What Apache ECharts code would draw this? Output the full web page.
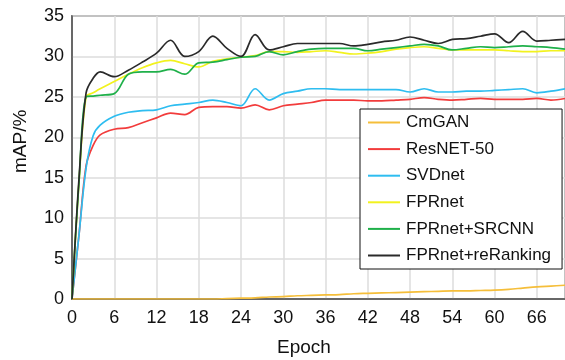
<!DOCTYPE html>
<html>
<head>
<meta charset="utf-8">
<script src="https://cdn.jsdelivr.net/npm/echarts@6/dist/echarts.min.js"></script>
<style>
  html, body { margin: 0; padding: 0; background: #fff; }
  #chart { width: 565px; height: 360px; }
</style>
</head>
<body>
<div id="chart"></div>
<script>
// Training epochs at which mAP was recorded
const epochs = [0, 1, 2, 3, 4, 6, 8, 10, 12, 14, 16, 18, 20, 22, 24, 26, 28, 30, 32, 34, 36,
  38, 40, 42, 44, 46, 48, 50, 52, 54, 56, 58, 60, 62, 64, 66, 68, 70];

// mAP (%) per method
const cmgan = [0, 0, 0, 0, 0, 0, 0, 0, 0, 0, 0, 0, 0, 0.05, 0.1, 0.15, 0.25, 0.3, 0.4, 0.45, 0.5,
  0.55, 0.65, 0.7, 0.75, 0.8, 0.85, 0.9, 0.95, 1.0, 1.0, 1.05, 1.1, 1.2, 1.35, 1.5, 1.6, 1.7];
const resnet50 = [0, 8, 16.5, 19.0, 20.3, 21.0, 21.2, 21.8, 22.4, 23.0, 22.8, 23.7, 23.8, 23.8, 23.6,
  24.0, 23.4, 23.9, 24.1, 24.3, 24.6, 24.6, 24.6, 24.5, 24.5, 24.6, 24.7, 24.9, 24.7, 24.6,
  24.7, 24.8, 24.7, 24.7, 24.7, 24.8, 24.6, 24.8];
const svdnet = [0, 8, 16.2, 20.2, 21.5, 22.6, 23.1, 23.3, 23.4, 23.9, 24.1, 24.3, 24.6, 24.3, 23.9,
  26.0, 24.6, 25.4, 25.7, 26.0, 26.0, 25.9, 25.9, 25.9, 25.9, 25.9, 25.6, 26.0, 25.6, 25.6,
  25.7, 25.7, 25.8, 25.9, 26.0, 25.5, 25.7, 26.0];
const fprnet = [0, 14.5, 25.0, 25.5, 26.0, 26.9, 27.8, 28.6, 29.2, 29.5, 29.1, 28.7, 29.4, 29.7, 29.9,
  30.1, 30.6, 30.6, 30.5, 30.6, 30.7, 30.5, 30.3, 30.4, 30.6, 30.9, 31.1, 31.2, 31.0, 30.8,
  30.8, 30.8, 30.8, 30.7, 30.6, 30.6, 30.7, 30.7];
const fprnetSrcnn = [0, 14.5, 25.0, 25.1, 25.2, 25.4, 27.8, 28.1, 28.1, 28.4, 27.8, 29.2, 29.3, 29.6,
  29.9, 30.0, 30.6, 30.2, 30.6, 30.9, 31.0, 31.0, 31.0, 30.7, 30.9, 31.1, 31.3, 31.5, 31.3,
  30.8, 31.0, 31.2, 31.1, 31.2, 31.3, 31.2, 31.1, 30.9];
const fprnetReRanking = [0, 15, 25.5, 27.3, 28.1, 27.5, 28.3, 29.3, 30.4, 32.0, 30.0, 30.6, 32.5, 31.0,
  30.0, 32.7, 30.8, 31.2, 31.6, 31.6, 31.6, 31.6, 31.3, 31.5, 31.8, 32.0, 32.4, 32.0, 31.6,
  32.1, 32.2, 32.5, 32.8, 31.7, 33.1, 31.9, 32.0, 32.1];

const seriesNames = ['CmGAN', 'ResNET-50', 'SVDnet', 'FPRnet', 'FPRnet+SRCNN', 'FPRnet+reRanking'];
const seriesValues = [cmgan, resnet50, svdnet, fprnet, fprnetSrcnn, fprnetReRanking];
const seriesColors = ['#f5be3a', '#f23c3c', '#2ebdf0', '#f2f21e', '#1fb04a', '#2a2a2a'];

const FONT = "'Liberation Sans', Arial, sans-serif";

const chart = echarts.init(document.getElementById('chart'), null, { renderer: 'canvas' });

chart.setOption({
  animation: false,
  backgroundColor: '#ffffff',
  grid: {
    left: 72, right: 0, top: 16, bottom: 61,
    show: true, borderColor: '#4a4a4a', borderWidth: 1.5, backgroundColor: 'transparent'
  },
  xAxis: {
    type: 'value',
    min: 0, max: 70, interval: 6,
    axisLine: { show: true, lineStyle: { color: '#4a4a4a', width: 1.5 } },
    axisTick: { show: false },
    splitLine: { show: true, lineStyle: { color: '#dcdcdc', width: 1.5 } },
    axisLabel: {
      showMaxLabel: false, margin: 10,
      fontFamily: FONT, fontSize: 18, color: '#111'
    }
  },
  yAxis: {
    type: 'value',
    min: 0, max: 35, interval: 5,
    axisLine: { show: true, lineStyle: { color: '#4a4a4a', width: 1.5 } },
    axisTick: { show: false },
    splitLine: { show: true, lineStyle: { color: '#dcdcdc', width: 1.5 } },
    axisLabel: { margin: 8, fontFamily: FONT, fontSize: 18, color: '#111' }
  },
  legend: {
    orient: 'vertical',
    left: 360, top: 109,
    padding: [5, 11, 5, 7],
    itemWidth: 32, itemHeight: 14, itemGap: 9.6,
    backgroundColor: '#ffffff',
    borderColor: '#111', borderWidth: 1,
    itemStyle: { opacity: 0 },
    textStyle: { fontFamily: FONT, fontSize: 17, color: '#111', padding: [0, 0, 0, 1] },
    data: seriesNames
  },
  graphic: [
    {
      type: 'text', rotation: Math.PI / 2,
      style: { text: 'mAP/%', font: "19px 'Liberation Sans', Arial, sans-serif", fill: '#111' },
      x: 11, y: 173
    },
    {
      type: 'text', x: 304, y: 348,
      style: {
        text: 'Epoch', font: "19px 'Liberation Sans', Arial, sans-serif", fill: '#111',
        align: 'center', verticalAlign: 'middle'
      }
    }
  ],
  series: seriesNames.map((name, i) => ({
    name: name,
    type: 'line',
    data: epochs.map((e, j) => [e, seriesValues[i][j]]),
    smooth: 0.35,
    symbol: 'none',
    showSymbol: false,
    color: seriesColors[i],
    lineStyle: { color: seriesColors[i], width: 1.7 },
    itemStyle: { color: seriesColors[i] },
    z: 2 + i
  }))
});
</script>
</body>
</html>
